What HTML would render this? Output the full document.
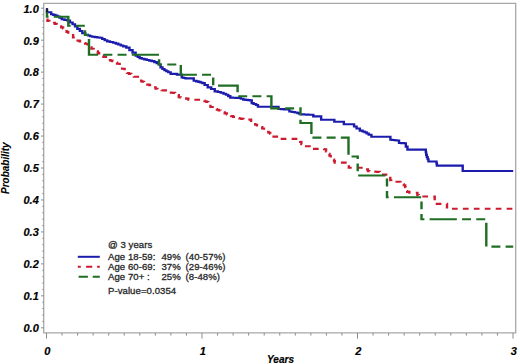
<!DOCTYPE html>
<html><head><meta charset="utf-8"><style>
html,body{margin:0;padding:0;background:#fff;}
body{width:520px;height:364px;overflow:hidden;}
svg{display:block;}
</style></head><body>
<svg width="520" height="364" viewBox="0 0 520 364">
<rect width="520" height="364" fill="#fff"/>
<path d="M43.7 3.3H515.7V332.9H43.7Z" fill="none" stroke="#a8a8a8" stroke-width="1.3"/>
<path d="M41 327.80H43.7M42.3 321.41H43.7M42.3 315.02H43.7M42.3 308.62H43.7M42.3 302.23H43.7M41 295.84H43.7M42.3 289.45H43.7M42.3 283.06H43.7M42.3 276.66H43.7M42.3 270.27H43.7M41 263.88H43.7M42.3 257.49H43.7M42.3 251.10H43.7M42.3 244.70H43.7M42.3 238.31H43.7M41 231.92H43.7M42.3 225.53H43.7M42.3 219.14H43.7M42.3 212.74H43.7M42.3 206.35H43.7M41 199.96H43.7M42.3 193.57H43.7M42.3 187.18H43.7M42.3 180.78H43.7M42.3 174.39H43.7M41 168.00H43.7M42.3 161.61H43.7M42.3 155.22H43.7M42.3 148.82H43.7M42.3 142.43H43.7M41 136.04H43.7M42.3 129.65H43.7M42.3 123.26H43.7M42.3 116.86H43.7M42.3 110.47H43.7M41 104.08H43.7M42.3 97.69H43.7M42.3 91.30H43.7M42.3 84.90H43.7M42.3 78.51H43.7M41 72.12H43.7M42.3 65.73H43.7M42.3 59.34H43.7M42.3 52.94H43.7M42.3 46.55H43.7M41 40.16H43.7M42.3 33.77H43.7M42.3 27.38H43.7M42.3 20.98H43.7M42.3 14.59H43.7M41 8.20H43.7M46.50 332.9V338.6M62.05 332.9V335.6M77.60 332.9V335.6M93.15 332.9V335.6M108.70 332.9V335.6M124.25 332.9V335.6M139.80 332.9V335.6M155.35 332.9V335.6M170.90 332.9V335.6M186.45 332.9V335.6M202.00 332.9V338.6M217.55 332.9V335.6M233.10 332.9V335.6M248.65 332.9V335.6M264.20 332.9V335.6M279.75 332.9V335.6M295.30 332.9V335.6M310.85 332.9V335.6M326.40 332.9V335.6M341.95 332.9V335.6M357.50 332.9V338.6M373.05 332.9V335.6M388.60 332.9V335.6M404.15 332.9V335.6M419.70 332.9V335.6M435.25 332.9V335.6M450.80 332.9V335.6M466.35 332.9V335.6M481.90 332.9V335.6M497.45 332.9V335.6M513.00 332.9V338.6" fill="none" stroke="#8c8c8c" stroke-width="1"/>
<g transform="scale(1 0.87)" fill="none" stroke-width="2.4" stroke-linecap="butt" stroke-linejoin="miter">
<path d="M47.00 9.43V14.02H50.20H51.20V16.44H52.20H53.25V17.13H55.35V17.82H56.40H57.42V19.02H59.48V20.23H60.50H61.75V22.18H63.00H64.42V22.87H67.28V23.56H68.70H69.95V25.86H71.20H72.60V27.82H74.00H75.00V30.46H76.00H77.35V33.22H78.70H79.85V35.63H81.00H82.30V38.16H83.60H85.30V40.00H87.00H88.00V40.86H90.00V41.72H91.00H92.25V42.18H94.75V42.64H97.25V43.10H98.50H99.75V43.33H101.00H102.20V44.83H103.40H104.70V46.32H106.00H107.20V47.59H108.40H109.95V48.33H113.05V49.08H114.60H115.82V50.11H118.28V51.15H119.50H120.75V52.24H123.25V53.33H124.50H126.35V54.71H128.20H129.45V57.59H130.70H132.55V60.46H134.40H135.60V64.02H136.80H137.75V65.40H139.65V66.78H140.60H141.82V67.53H144.28V68.28H145.50H146.75V68.97H149.25V69.66H150.50H151.70V70.23H152.90H154.35V71.38H155.80H156.75V72.76H158.65V74.14H159.60H160.55V77.47H161.50H162.50V79.31H163.50H164.45V80.80H165.40H166.35V81.90H168.25V82.99H169.20H170.65V84.94H172.10H176.00H176.95V85.75H177.90H180.80H181.75V89.08H182.70H183.65V89.60H185.55V90.11H186.50H192.30H193.75V92.87H195.20H196.27V93.51H198.43V94.14H199.50H200.45V94.83H202.35V95.52H203.30H204.65V97.70H206.00H207.70V100.46H209.40H211.20V102.30H213.00H214.75V105.06H216.50H217.93V105.80H220.77V106.55H222.20H223.45V107.70H225.95V108.85H227.20H228.22V110.52H230.28V112.18H231.30H232.68V112.34H235.45V112.49H238.22V112.64H239.60H240.82V113.56H243.28V114.48H244.50H245.60V114.79H247.80V115.10H250.00V115.40H251.10H251.75V118.51H252.40H253.62V119.60H256.07V120.69H257.30H257.95V122.76H258.60H277.00H278.45V125.29H279.90H281.28V125.48H284.05V125.67H286.82V125.86H288.20H289.40V128.16H290.60H291.98V128.77H294.75V129.39H297.52V130.00H298.90H299.70V131.38H300.50H301.65V131.49H303.95V131.61H306.25V131.72H308.55V131.84H310.85V131.95H312.00H313.30V133.79H314.60H319.50H321.15V137.59H322.80H332.70H334.35V139.89H336.00H342.60H343.85V142.76H345.10H353.30H354.10V145.40H354.90H356.55V147.70H358.20H359.85V150.11H361.50H362.52V151.09H364.58V152.07H365.60H366.65V153.51H368.75V154.94H369.80H371.40V157.13H373.00H389.60H390.40V160.57H391.20H392.30V160.88H394.50V161.19H396.70V161.49H397.80H399.05V164.37H400.30H401.48V164.54H403.82V164.71H405.00H405.80V168.51H406.60H407.45V171.95H408.30H425.60H425.80V175.00H426.20V178.05H426.40H426.82V180.57H427.65V183.10H428.48V185.63H428.90H436.30H436.50V187.99H436.90V190.34H437.10H462.70V196.55H513.20" stroke="#1c1cac"/>
<path d="M46.50 22.53H47.45V24.02H49.35V25.52H50.30H51.20V25.86H53.00V26.21H53.90H54.80V27.41H56.60V28.62H57.50H58.85V30.11H60.20H61.17V31.44H63.12V32.76H64.10H64.95V34.25H65.80H66.60V36.67H68.20V39.08H69.00H70.35V40.23H71.70H73.10V43.10H74.50H75.55V44.89H77.65V46.67H78.70H79.62V47.56H81.47V48.45H83.33V49.34H85.17V50.23H86.10H87.55V52.87H89.00H89.83V54.43H91.47V55.98H92.30H93.65V58.62H95.00H96.10V58.97H97.20H97.83V60.75H99.08V62.53H99.70H100.95V63.97H103.45V65.40H104.70H105.92V67.18H108.38V68.97H109.60H110.52V69.66H112.38V70.34H113.30H114.55V71.78H117.05V73.22H118.30H119.65V75.86H121.00H122.10V78.97H123.20H124.60V81.61H126.00H127.10V83.91H128.20H129.10V84.94H130.00H131.25V86.55H133.75V88.16H135.00H139.90H140.32V90.80H141.18V93.45H141.60H142.43V93.91H144.07V94.37H144.90H145.72V95.80H147.38V97.24H148.20H149.42V97.93H151.88V98.62H153.10H153.93V100.29H155.57V101.95H156.40H157.45V103.45H158.50H159.53V103.60H161.60V103.75H163.67V103.91H164.70H165.75V106.21H166.80H167.72V106.34H169.56V106.48H171.40V106.62H173.24V106.76H175.08V106.90H176.00H176.93V109.37H178.77V111.84H179.70H180.62V112.21H182.47V112.59H184.32V112.96H186.17V113.33H187.10H188.35V114.71H189.60H201.60H202.57V115.56H204.50V116.40H206.43V117.24H207.40H208.43V120.11H210.47V122.99H211.50H212.62V124.14H214.88V125.29H216.00H216.90V126.13H218.70V126.97H220.50V127.82H221.40H222.50V129.08H224.70V130.34H226.90V131.61H228.00H229.04V132.56H231.11V133.51H233.19V134.45H235.26V135.40H236.30H237.33V135.80H239.38V136.21H241.43V136.61H243.47V137.01H244.50H245.60V137.16H247.80V137.32H250.00V137.47H251.10V140.57H251.93V141.53H253.60V142.49H255.27V143.45H256.10H256.98V144.33H258.75V145.21H260.52V146.09H261.40H262.25V147.76H263.95V149.43H264.80H266.25V151.38H267.70H268.55V152.59H270.25V153.79H271.10H271.80V157.01H272.50H279.50H280.00V159.66H280.50H299.00H299.43V161.38H300.27V163.10H300.70H301.35V165.86H302.00H303.40V168.16H304.80H311.40H312.50V171.15H313.60H319.10H320.10V171.26H322.10V171.38H324.10V171.49H325.10H326.05V174.14H327.95V176.78H328.90H329.50V178.97H330.70V181.15H331.30H332.50V183.33H333.70H334.05V185.11H334.75V186.90H335.10H346.70H347.40V189.43H348.10H348.85V192.76H349.60H366.90H367.25V194.71H367.95V196.67H368.30H369.31V196.85H371.33V197.03H373.35V197.22H375.37V197.40H377.39V197.59H378.40H379.65V200.46H380.90H381.91V200.60H383.94V200.75H385.96V200.89H387.99V201.03H389.00H389.65V202.18H390.30V207.24H391.15V208.97H392.00H399.60H400.35V210.40H401.85V211.84H402.60H403.80V212.87H405.00H405.18V215.10H405.55V217.32H405.92V219.54H406.10H407.20V220.52H409.40V221.49H410.50H416.40H417.40V224.25H418.40H418.70V225.86H419.00H434.70V234.37H447.00V240.00H513.20" stroke="#cc1a2e" stroke-dasharray="5.7 5.24" stroke-dashoffset="0.65"/>
<path d="M47.00 9.43V19.31H68.30V29.66H85.00V40.23H89.00V62.99H159.10V74.14H180.80V85.98H213.20V98.39H237.60V110.69H271.40V124.60H300.50V141.38H311.40V158.16H348.50V179.89H357.70V201.72H387.00V226.78H421.50V251.95H486.30V283.45H513.20" stroke="#1f6e24" stroke-dasharray="27.25 5.2 9.0 5.2 9.0 5.2" stroke-dashoffset="44.24"/>
</g>
<path d="M47 8.2V12.2" stroke="#1c1c3c" stroke-width="2"/>
<g font-family="Liberation Sans, sans-serif" font-weight="bold" font-style="italic" font-size="11" fill="#000" stroke="#000" stroke-width="0.18"><text x="38.8" y="332.1" text-anchor="end">0.0</text><text x="38.8" y="300.1" text-anchor="end">0.1</text><text x="38.8" y="268.2" text-anchor="end">0.2</text><text x="38.8" y="236.2" text-anchor="end">0.3</text><text x="38.8" y="204.3" text-anchor="end">0.4</text><text x="38.8" y="172.3" text-anchor="end">0.5</text><text x="38.8" y="140.3" text-anchor="end">0.6</text><text x="38.8" y="108.4" text-anchor="end">0.7</text><text x="38.8" y="76.4" text-anchor="end">0.8</text><text x="38.8" y="44.5" text-anchor="end">0.9</text><text x="38.8" y="12.5" text-anchor="end">1.0</text><text x="47.3" y="354.5" text-anchor="middle">0</text><text x="202.8" y="354.5" text-anchor="middle">1</text><text x="358.3" y="354.5" text-anchor="middle">2</text><text x="513.8" y="354.5" text-anchor="middle">3</text></g>
<g font-family="Liberation Sans, sans-serif" font-weight="bold" font-style="italic" font-size="10" fill="#000"><text x="280.5" y="363" text-anchor="middle" stroke="#000" stroke-width="0.2">Years</text><text transform="translate(9.4 168.2) rotate(-90)" text-anchor="middle" stroke="#000" stroke-width="0.1">Probability</text></g>
<path d="M77.8 256.8H99.8" stroke="#1c1cac" stroke-width="2"/>
<path d="M77.8 266.7H99.8" stroke="#cc1a2e" stroke-width="2" stroke-dasharray="3 5.3 6.2 4.8 3 0"/>
<path d="M78.6 276.8H99.8" stroke="#1f6e24" stroke-width="2" stroke-dasharray="9.3 4.8 8 0"/>
<g transform="scale(1 0.93)" font-family="Liberation Sans, sans-serif" font-size="9.6" letter-spacing="0.05" fill="#262626" stroke="#262626" stroke-width="0.3"><text x="108" y="266.24">@ 3 years</text><text x="108" y="279.25">Age 18-59:</text><text x="161.4" y="279.25">49%</text><text x="185.6" y="279.25">(40-57%)</text><text x="108" y="290.54">Age 60-69:</text><text x="161.4" y="290.54">37%</text><text x="185.6" y="290.54">(29-46%)</text><text x="108" y="301.61">Age 70+ :</text><text x="161.4" y="301.61">25%</text><text x="185.6" y="301.61">(8-48%)</text><text x="108" y="315.81">P-value=0.0354</text></g>
</svg>
</body></html>
